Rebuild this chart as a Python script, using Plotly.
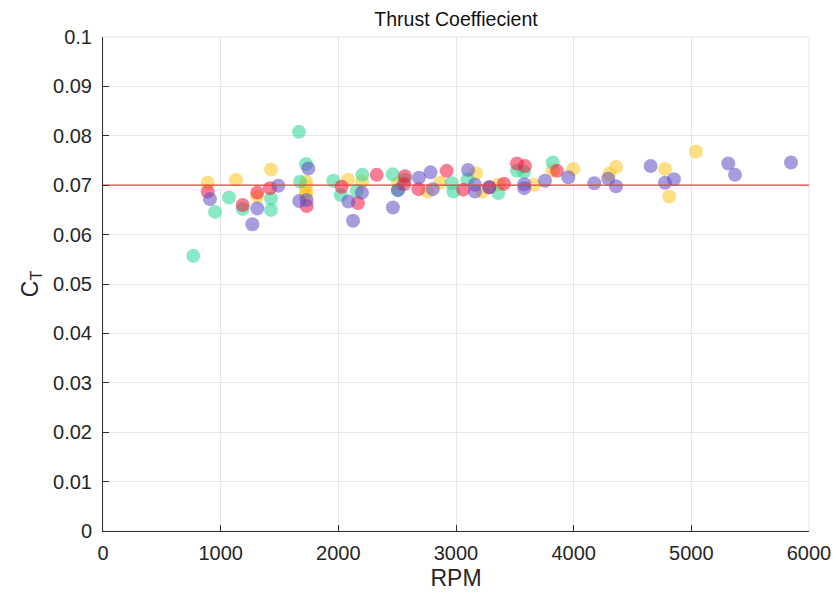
import plotly.graph_objects as go

# Data (RPM, thrust coefficient)
teal_rpm = [767, 952, 1071, 1187, 1428, 1428, 1666, 1725, 1674, 1957, 2020, 2156, 2204,
            2462, 2566, 2507, 2963, 2977, 3099, 3359, 3518, 3578, 3822]
teal_ct = [0.0557, 0.0646, 0.0675, 0.0652, 0.0673, 0.0650, 0.0808, 0.0743, 0.0707, 0.0709,
           0.0680, 0.0689, 0.0721, 0.0722, 0.0711, 0.0690, 0.0704, 0.0687, 0.0712, 0.0684,
           0.0729, 0.0727, 0.0746]

purple_rpm = [909, 1269, 1311, 1490, 1668, 1745, 1731, 2085, 2125, 2201, 2464, 2507, 2685,
              2783, 2802, 3102, 3161, 3161, 3283, 3580, 3580, 3756, 3954, 4175, 4294, 4360,
              4654, 4776, 4852, 5314, 5371, 5847]
purple_ct = [0.0672, 0.0621, 0.0653, 0.0699, 0.0668, 0.0734, 0.0670, 0.0667, 0.0628, 0.0685,
             0.0655, 0.0690, 0.0715, 0.0726, 0.0692, 0.0731, 0.0701, 0.0687, 0.0696, 0.0702,
             0.0694, 0.0709, 0.0716, 0.0704, 0.0713, 0.0698, 0.0739, 0.0705, 0.0712, 0.0744,
             0.0721, 0.0746]

red_rpm = [890, 1187, 1311, 1419, 1731, 2028, 2167, 2326, 2566, 2558, 2681, 2921, 3062,
           3283, 3408, 3518, 3586, 3858]
red_ct = [0.0687, 0.0660, 0.0685, 0.0694, 0.0658, 0.0697, 0.0664, 0.0721, 0.0718, 0.0702,
          0.0692, 0.0729, 0.0691, 0.0696, 0.0703, 0.0744, 0.0739, 0.0729]

yellow_rpm = [890, 1130, 1311, 1428, 1725, 1725, 1725, 1725, 2082, 2201, 2507, 2758, 2864,
              3170, 3227, 3359, 3665, 3822, 3997, 4303, 4360, 4776, 4812, 5039]
yellow_ct = [0.0705, 0.0711, 0.0677, 0.0732, 0.0707, 0.0698, 0.0688, 0.0680, 0.0711, 0.0707,
             0.0704, 0.0687, 0.0705, 0.0724, 0.0687, 0.0701, 0.0701, 0.0730, 0.0733, 0.0723,
             0.0737, 0.0733, 0.0677, 0.0768]

mean_ct = 0.07

series = [
    ("yellow", yellow_rpm, yellow_ct, "rgb(255,196,30)"),
    ("teal", teal_rpm, teal_ct, "rgb(40,215,150)"),
    ("red", red_rpm, red_ct, "rgb(240,20,60)"),
    ("purple", purple_rpm, purple_ct, "rgb(95,75,195)"),
]

fig = go.Figure()
for name, xs, ys, col in series:
    fig.add_trace(go.Scatter(
        x=xs, y=ys, mode="markers", name=name,
        marker=dict(size=14, color=col, opacity=0.55, line=dict(width=0)),
        showlegend=False,
    ))

fig.add_trace(go.Scatter(
    x=[0, 6000], y=[mean_ct, mean_ct], mode="lines",
    line=dict(color="rgb(240,60,60)", width=1.2), showlegend=False,
))

font_fam = "Liberation Sans, Arial, sans-serif"
fig.update_layout(
    width=836, height=596,
    margin=dict(l=103, r=27, t=37, b=65, autoexpand=False),
    paper_bgcolor="white", plot_bgcolor="white",
    font=dict(family=font_fam, color="#262626"),
    title=dict(text="Thrust Coeffiecient", x=0.5, xref="paper", xanchor="center",
               y=1 - 19 / 596, yref="container", yanchor="middle",
               font=dict(size=19.5, color="#111111")),
)
fig.update_xaxes(
    range=[0, 6000], dtick=1000, showgrid=True, gridcolor="#e6e6e6", gridwidth=1,
    zeroline=False, showline=True, linecolor="#333333", linewidth=1, automargin=False,
    ticks="inside", ticklen=6, tickcolor="#333333", ticklabelstandoff=4,
    tickfont=dict(size=20), title=dict(text="RPM", font=dict(size=23), standoff=6),
)
fig.update_yaxes(
    range=[0, 0.1], dtick=0.01, showgrid=True, gridcolor="#e6e6e6", gridwidth=1,
    zeroline=False, showline=True, linecolor="#333333", linewidth=1, automargin=False,
    ticks="inside", ticklen=6, tickcolor="#333333", ticklabelstandoff=6,
    tickfont=dict(size=20), title=dict(text="C<sub>T</sub>", font=dict(size=23), standoff=8),
)
# light box on top/right
fig.add_shape(type="rect", xref="paper", yref="paper", x0=0, y0=0, x1=1, y1=1,
              line=dict(color="#e6e6e6", width=1), layer="below")

fig.write_html("out.html")
